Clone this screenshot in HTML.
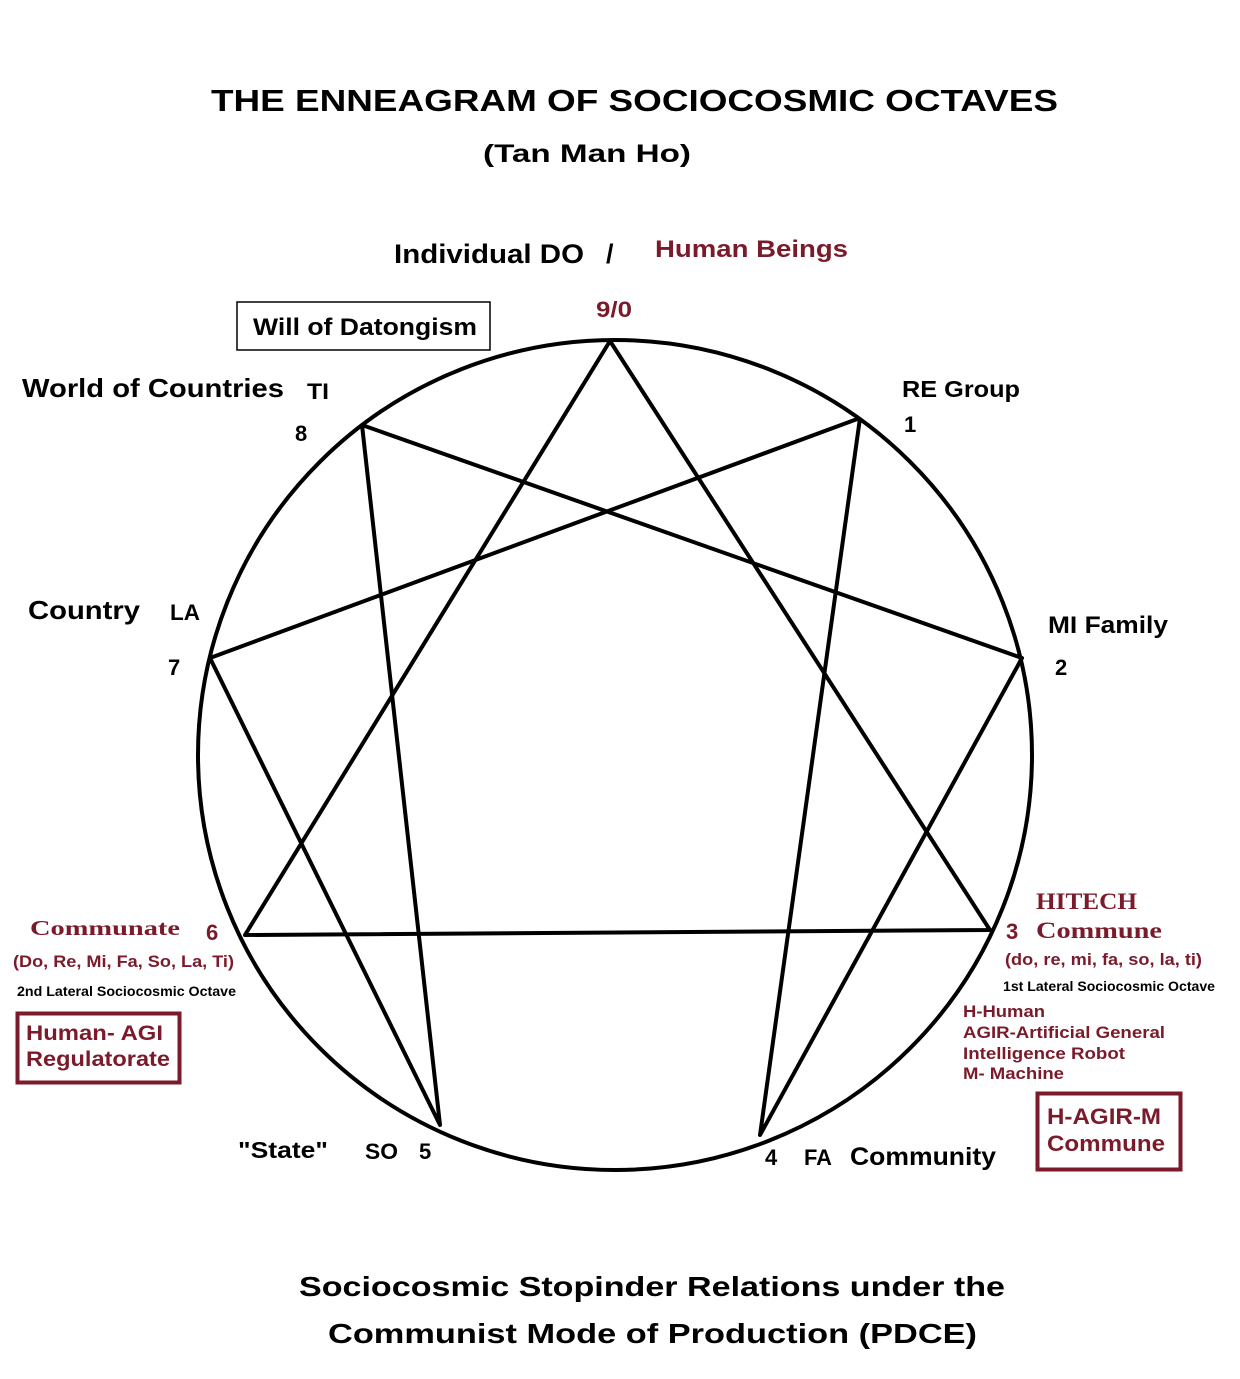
<!DOCTYPE html>
<html><head><meta charset="utf-8"><style>
html,body{margin:0;padding:0;background:#fff}
svg text{font-family:"Liberation Sans",sans-serif}
svg text.serif{font-family:"Liberation Serif",serif}
</style></head><body>
<svg width="1240" height="1374" viewBox="0 0 1240 1374" xmlns="http://www.w3.org/2000/svg">
<rect width="1240" height="1374" fill="#fff"/>
<g stroke="#000" stroke-width="4" fill="none" stroke-linejoin="round">
<ellipse cx="615" cy="755" rx="417" ry="415"/>
<polygon points="610,341 990,930 245,935"/>
<polyline points="860,418 760,1135 1022,658 362,425 440,1125 210,658 860,418"/>
</g>
<g font-weight="bold" fill="#000">
<text x="211" y="111" font-size="31" textLength="847" lengthAdjust="spacingAndGlyphs">THE ENNEAGRAM OF SOCIOCOSMIC OCTAVES</text>
<text x="483" y="162" font-size="25" textLength="208" lengthAdjust="spacingAndGlyphs">(Tan Man Ho)</text>
<text x="394" y="263" font-size="27" textLength="190" lengthAdjust="spacingAndGlyphs">Individual DO</text>
<text x="606" y="263" font-size="27">/</text>
<text x="655" y="257" font-size="24" fill="#7a1a2a" textLength="193" lengthAdjust="spacingAndGlyphs">Human Beings</text>
<text x="596" y="317" font-size="22" fill="#7a1a2a" textLength="36" lengthAdjust="spacingAndGlyphs">9/0</text>
<text x="22" y="397" font-size="26" textLength="262" lengthAdjust="spacingAndGlyphs">World of Countries</text>
<text x="307" y="399" font-size="22" textLength="22" lengthAdjust="spacingAndGlyphs">TI</text>
<text x="295" y="441" font-size="22">8</text>
<text x="902" y="397" font-size="23" textLength="118" lengthAdjust="spacingAndGlyphs">RE  Group</text>
<text x="904" y="432" font-size="22">1</text>
<text x="28" y="619" font-size="26" textLength="112" lengthAdjust="spacingAndGlyphs">Country</text>
<text x="170" y="620" font-size="22" textLength="30" lengthAdjust="spacingAndGlyphs">LA</text>
<text x="168" y="675" font-size="22">7</text>
<text x="1048" y="633" font-size="24" textLength="120" lengthAdjust="spacingAndGlyphs">MI  Family</text>
<text x="1055" y="675" font-size="22">2</text>
<text x="1036" y="909" font-size="23" fill="#7a1a2a" class="serif" textLength="101" lengthAdjust="spacingAndGlyphs">HITECH</text>
<text x="1006" y="939" font-size="22" fill="#7a1a2a">3</text>
<text x="1036" y="938" font-size="23" fill="#7a1a2a" class="serif" textLength="126" lengthAdjust="spacingAndGlyphs">Commune</text>
<text x="1005" y="965" font-size="17" fill="#7a1a2a" textLength="197" lengthAdjust="spacingAndGlyphs">(do, re, mi, fa, so, la, ti)</text>
<text x="1003" y="991" font-size="14" textLength="212" lengthAdjust="spacingAndGlyphs">1st Lateral Sociocosmic Octave</text>
<text x="963" y="1017" font-size="17" fill="#7a1a2a" textLength="82" lengthAdjust="spacingAndGlyphs">H-Human</text>
<text x="963" y="1038" font-size="17" fill="#7a1a2a" textLength="202" lengthAdjust="spacingAndGlyphs">AGIR-Artificial General</text>
<text x="963" y="1059" font-size="17" fill="#7a1a2a" textLength="162" lengthAdjust="spacingAndGlyphs">Intelligence Robot</text>
<text x="963" y="1079" font-size="17" fill="#7a1a2a" textLength="101" lengthAdjust="spacingAndGlyphs">M- Machine</text>
<text x="30" y="935" font-size="21" fill="#7a1a2a" class="serif" textLength="150" lengthAdjust="spacingAndGlyphs">Communate</text>
<text x="206" y="940" font-size="22" fill="#7a1a2a">6</text>
<text x="13" y="967" font-size="17" fill="#7a1a2a" textLength="221" lengthAdjust="spacingAndGlyphs">(Do, Re, Mi, Fa, So, La, Ti)</text>
<text x="17" y="996" font-size="14" textLength="219" lengthAdjust="spacingAndGlyphs">2nd Lateral Sociocosmic Octave</text>
<text x="238" y="1158" font-size="23" textLength="90" lengthAdjust="spacingAndGlyphs">"State"</text>
<text x="365" y="1159" font-size="22" textLength="33" lengthAdjust="spacingAndGlyphs">SO</text>
<text x="419" y="1159" font-size="22">5</text>
<text x="765" y="1165" font-size="22">4</text>
<text x="804" y="1165" font-size="22" textLength="28" lengthAdjust="spacingAndGlyphs">FA</text>
<text x="850" y="1165" font-size="25" textLength="146" lengthAdjust="spacingAndGlyphs">Community</text>
<text x="299" y="1296" font-size="28" textLength="706" lengthAdjust="spacingAndGlyphs">Sociocosmic Stopinder Relations under the</text>
<text x="328" y="1343" font-size="28" textLength="649" lengthAdjust="spacingAndGlyphs">Communist  Mode of Production (PDCE)</text>
</g>
<rect x="237" y="302" width="253" height="48" fill="none" stroke="#000" stroke-width="1.5"/>
<text x="253" y="335" font-size="24" font-weight="bold" textLength="224" lengthAdjust="spacingAndGlyphs">Will of Datongism</text>
<rect x="17.5" y="1013.5" width="162" height="69" fill="none" stroke="#7a1a2a" stroke-width="4"/>
<text x="26" y="1040" font-size="21" font-weight="bold" fill="#7a1a2a" textLength="137" lengthAdjust="spacingAndGlyphs">Human- AGI</text>
<text x="26" y="1066" font-size="21" font-weight="bold" fill="#7a1a2a" textLength="144" lengthAdjust="spacingAndGlyphs">Regulatorate</text>
<rect x="1037.5" y="1093.5" width="143" height="76" fill="none" stroke="#7a1a2a" stroke-width="4"/>
<text x="1047" y="1124" font-size="22" font-weight="bold" fill="#7a1a2a" textLength="114" lengthAdjust="spacingAndGlyphs">H-AGIR-M</text>
<text x="1047" y="1151" font-size="22" font-weight="bold" fill="#7a1a2a" textLength="118" lengthAdjust="spacingAndGlyphs">Commune</text>
</svg>
</body></html>
